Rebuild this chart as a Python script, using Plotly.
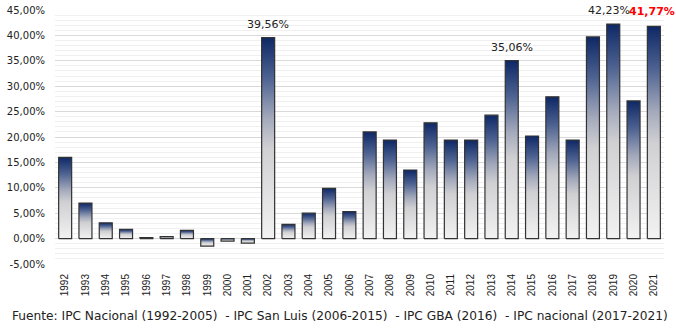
import plotly.graph_objects as go

years = list(range(1992, 2022))
values = [16.0, 7.0, 3.1, 1.8, 0.2, 0.4, 1.6, -1.5, -0.5, -0.9,
          39.56, 2.8, 5.0, 9.9, 5.3, 21.0, 19.4, 13.5, 22.8, 19.4,
          19.4, 24.3, 35.06, 20.2, 27.9, 19.4, 39.7, 42.23, 27.1, 41.77]
labels = {2002: "39,56%", 2014: "35,06%", 2019: "42,23%"}
highlight = {2021: "41,77%"}
y_ticks = [-5, 0, 5, 10, 15, 20, 25, 30, 35, 40, 45]
source = "Fuente: IPC Nacional (1992-2005)  - IPC San Luis (2006-2015)  - IPC GBA (2016)  - IPC nacional (2017-2021)"

FONT = "DejaVu Sans"
half = 0.32
scale = [[0, "#f2f2f2"], [0.45, "#d0d0d3"], [0.6, "#a3a9bb"], [0.8, "#4d6291"], [1, "#0e2866"]]

fig = go.Figure()
for yr, v in zip(years, values):
    fig.add_trace(go.Scatter(
        x=[yr - half, yr - half, yr + half, yr + half, yr - half],
        y=[0, v, v, 0, 0],
        mode="lines", fill="toself",
        line=dict(color="#333333", width=1.2),
        fillgradient=dict(type="vertical", colorscale=scale,
                          start=min(0, v), stop=max(0, v)),
        hoverinfo="skip", showlegend=False))

for yr, txt in labels.items():
    v = values[years.index(yr)]
    xs = -4 if yr == 2019 else 0
    fig.add_annotation(x=yr, y=v, text=txt, showarrow=False, yanchor="bottom",
                       yshift=5, xshift=xs, font=dict(family=FONT, size=11, color="#222222"))
for yr, txt in highlight.items():
    v = values[years.index(yr)]
    fig.add_annotation(x=yr, y=v, text="<b>" + txt + "</b>", showarrow=False, yanchor="bottom",
                       yshift=6, xshift=-2, font=dict(family=FONT, size=11, color="#ff0000"))

fig.add_annotation(xref="paper", yref="paper", x=-0.074, y=-0.205, xanchor="left", yanchor="middle",
                   text=source, showarrow=False, font=dict(family=FONT, size=12.2, color="#222222"))

fig.update_layout(
    width=676, height=332,
    margin=dict(l=55, r=12, t=10, b=68),
    paper_bgcolor="white", plot_bgcolor="white",
    font=dict(family=FONT, color="#222222"),
    xaxis=dict(range=[1991.5, 2021.5], tickmode="array", tickvals=years,
               ticktext=[str(y) for y in years], tickangle=-90, automargin=False,
               showgrid=False, zeroline=False, showline=False,
               ticks="outside", ticklen=5, tickcolor="rgba(0,0,0,0)",
               tickfont=dict(family="Liberation Sans", size=10, color="#222222")),
    yaxis=dict(range=[-5, 45], tickmode="array", tickvals=y_ticks, automargin=False,
               ticktext=[("%.2f" % t).replace(".", ",") + "%" for t in y_ticks],
               showgrid=True, gridcolor="#d9d9d9", gridwidth=1,
               minor=dict(dtick=1, showgrid=True, gridcolor="#f0f0f0", gridwidth=1),
               zeroline=False, showline=False,
               ticks="outside", ticklen=7, tickcolor="rgba(0,0,0,0)",
               tickfont=dict(family=FONT, size=10, color="#222222")),
)

fig.write_html("out.html")
